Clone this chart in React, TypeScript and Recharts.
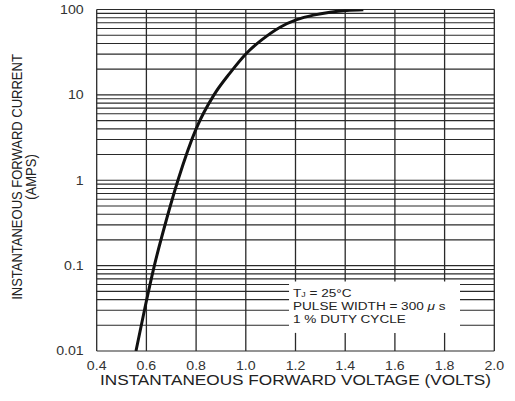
import React from 'react';
import { LineChart, Line, XAxis, YAxis, ReferenceLine, ReferenceArea, Label } from 'recharts';

// Curve: forward voltage (V) vs forward current (A)
const voltage = [0.558, 0.595, 0.632, 0.68, 0.727, 0.8, 0.872, 0.936, 1.004, 1.064, 1.138, 1.205, 1.272, 1.339, 1.406, 1.473];
const current = [0.01, 0.033, 0.1, 0.34, 1, 4.0, 10, 18, 31, 44, 62, 76, 86, 93, 97.5, 99.5];

const xTicks = [0.4, 0.6, 0.8, 1.0, 1.2, 1.4, 1.6, 1.8, 2.0];
const yTicks = [0.01, 0.1, 1, 10, 100];
const yGrid = [
  0.01, 0.02, 0.03, 0.04, 0.05, 0.06, 0.07, 0.08, 0.09,
  0.1, 0.2, 0.3, 0.4, 0.5, 0.6, 0.7, 0.8, 0.9,
  1, 2, 3, 4, 5, 6, 7, 8, 9,
  10, 20, 30, 40, 50, 60, 70, 80, 90,
  100,
];

// annotation box (data space)
const boxV = [1.174, 1.862];
const boxI = [0.0163, 0.065];

const noteLines = ['= 25°C', 'PULSE WIDTH = 300 ', '1 % DUTY CYCLE'];
const xTitle = 'INSTANTANEOUS FORWARD VOLTAGE (VOLTS)';
const yTitle = 'INSTANTANEOUS FORWARD CURRENT';
const yUnit = '(AMPS)';

const data = voltage.map((v, i) => ({ v, i: current[i] }));

const FONT = '"Liberation Sans", Arial, Helvetica, sans-serif';
const GRID = '#2a2a2a';
const STRETCH = 1.18;

const NoteContent = (props: any) => {
  const vb = props.viewBox || { x: 0, y: 0 };
  const x = vb.x + 4;
  const y = vb.y;
  const common = { fontFamily: FONT, fontSize: 11.5, fill: '#222' } as any;
  return (
    <g>
      <text transform={`translate(${x} ${y + 15.5}) scale(${STRETCH} 1)`} {...common}>
        T<tspan fontSize={7.5}>J</tspan> {noteLines[0]}
      </text>
      <text transform={`translate(${x} ${y + 28.5}) scale(${STRETCH} 1)`} {...common}>
        {noteLines[1]}<tspan fontStyle="italic">μ</tspan> s
      </text>
      <text transform={`translate(${x} ${y + 41.5}) scale(${STRETCH} 1)`} {...common}>
        {noteLines[2]}
      </text>
    </g>
  );
};

const YTitle = () => {
  const cy = 177;
  return (
    <g>
      <text transform={`translate(22 ${cy}) rotate(-90) scale(1 1.15)`} textAnchor="middle" fontFamily={FONT} fontSize={13} fill="#222">
        {yTitle}
      </text>
      <text transform={`translate(36 ${cy}) rotate(-90) scale(1 1.15)`} textAnchor="middle" fontFamily={FONT} fontSize={13} fill="#222">
        {yUnit}
      </text>
    </g>
  );
};

const XTitle = (props: any) => {
  const vb = props.viewBox || { x: 0, y: 0, width: 0 };
  return (
    <text transform={`translate(${vb.x + vb.width / 2} 385) scale(1.148 1)`} textAnchor="middle" fontFamily={FONT} fontSize={15} fill="#222">
      {xTitle}
    </text>
  );
};

const XTick = (props: any) => {
  const { x, y, payload } = props;
  return (
    <text transform={`translate(${x} ${y}) scale(${STRETCH} 1)`} textAnchor="middle" dy="0.71em" fontFamily={FONT} fontSize={12} fill="#333">
      {Number(payload.value).toFixed(1)}
    </text>
  );
};

const YTick = (props: any) => {
  const { x, y, payload } = props;
  return (
    <text transform={`translate(${x} ${y}) scale(${STRETCH} 1)`} textAnchor="end" dy="0.355em" fontFamily={FONT} fontSize={12} fill="#333">
      {String(payload.value)}
    </text>
  );
};

export default function App() {
  const inBoxY = (y: number) => y > boxI[0] && y < boxI[1];
  const inBoxX = (x: number) => x > boxV[0] && x < boxV[1];

  const hLines: React.ReactNode[] = [];
  yGrid.forEach((y) => {
    if (inBoxY(y)) {
      hLines.push(
        <ReferenceLine key={`h${y}a`} segment={[{ x: 0.4, y }, { x: boxV[0], y }]} stroke={GRID} strokeWidth={1.1} />
      );
      hLines.push(
        <ReferenceLine key={`h${y}b`} segment={[{ x: boxV[1], y }, { x: 2.0, y }]} stroke={GRID} strokeWidth={1.1} />
      );
    } else {
      hLines.push(<ReferenceLine key={`h${y}`} y={y} stroke={GRID} strokeWidth={1.1} />);
    }
  });

  const vLines: React.ReactNode[] = [];
  xTicks.forEach((x) => {
    if (inBoxX(x)) {
      vLines.push(
        <ReferenceLine key={`v${x}a`} segment={[{ x, y: 0.01 }, { x, y: boxI[0] }]} stroke={GRID} strokeWidth={1.3} />
      );
      vLines.push(
        <ReferenceLine key={`v${x}b`} segment={[{ x, y: boxI[1] }, { x, y: 100 }]} stroke={GRID} strokeWidth={1.3} />
      );
    } else {
      vLines.push(<ReferenceLine key={`v${x}`} x={x} stroke={GRID} strokeWidth={1.3} />);
    }
  });

  return (
    <div style={{ position: 'absolute', left: 0, top: 0, width: 515, height: 401, background: '#fff' }}>
      <LineChart width={515} height={401} data={data} margin={{ top: 9.5, right: 20.7, left: 0, bottom: 0 }}>
        <XAxis
          dataKey="v"
          type="number"
          domain={[0.4, 2.0]}
          ticks={xTicks}
          axisLine={false}
          tickLine={false}
          tickMargin={4}
          height={50}
          allowDataOverflow
          tick={<XTick />}
          label={<Label content={XTitle} />}
        />
        <YAxis
          dataKey="i"
          type="number"
          scale="log"
          domain={[0.01, 100]}
          ticks={yTicks}
          axisLine={false}
          tickLine={false}
          tickMargin={7}
          width={96.7}
          allowDataOverflow
          tick={<YTick />}
          label={<Label content={YTitle} />}
        />
        {hLines}
        {vLines}
        <ReferenceArea x1={boxV[0]} x2={boxV[1]} y1={boxI[0]} y2={boxI[1]} fill="none" fillOpacity={0} stroke="none">
          <Label content={NoteContent} />
        </ReferenceArea>
        <Line
          type="monotone"
          dataKey="i"
          stroke="#111"
          strokeWidth={3}
          dot={false}
          isAnimationActive={false}
        />
      </LineChart>
    </div>
  );
}
